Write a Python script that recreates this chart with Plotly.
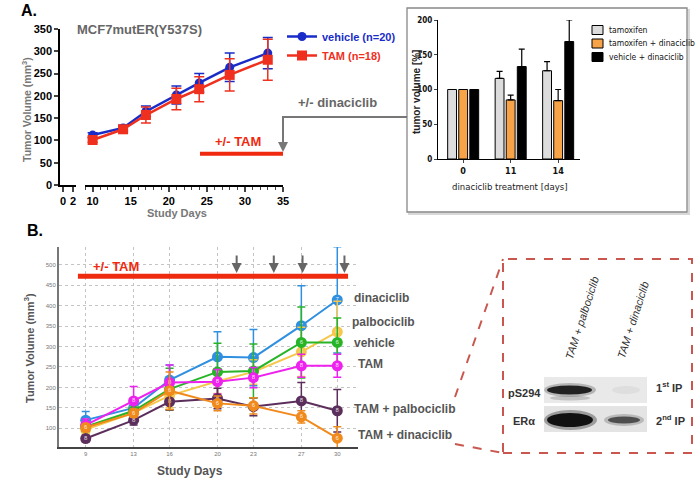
import plotly.graph_objects as go

W, H = 700, 490
FONT = "Liberation Sans, Arial, sans-serif"
NARROW = "Liberation Sans Narrow, DejaVu Sans Condensed, Liberation Sans, sans-serif"


def px(x):
    return x / W


def py(y):
    return 1 - y / H


# ---------------- Panel A: growth curves ----------------
days_A = [10, 14, 17, 21, 24, 28, 33]
vehicle_A = [112, 128, 165, 202, 229, 264, 296]
vehicle_A_err = [5, 6, 12, 20, 21, 32, 35]
tam_A = [101, 125, 157, 193, 215, 247, 281]
tam_A_err = [5, 6, 18, 24, 28, 36, 46]

# ---------------- Panel A inset: bar chart ----------------
inset_days = ["0", "11", "14"]
inset_groups = ["tamoxifen", "tamoxifen + dinaciclib", "vehicle + dinaciclib"]
tamoxifen_pct = [100, 116, 127]
tamoxifen_err = [0, 10, 13]
tam_dina_pct = [100, 85, 84]
tam_dina_err = [0, 7, 16]
veh_dina_pct = [100, 133, 169]
veh_dina_err = [0, 25, 31]
inset_colors = ["#dcdcdc", "#f7a448", "#000000"]

# ---------------- Panel B: growth curves ----------------
days_B = [9, 13, 16, 20, 23, 27, 30]
series_B = ["dinaciclib", "palbociclib", "vehicle", "TAM", "TAM + palbociclib", "TAM + dinaciclib"]
values_B = {
    "dinaciclib": [120, 150, 218, 275, 273, 351, 414],
    "palbociclib": [97, 138, 180, 215, 238, 287, 336],
    "vehicle": [104, 143, 196, 238, 240, 310, 310],
    "TAM": [108, 167, 212, 214, 224, 253, 253],
    "TAM + palbociclib": [75, 120, 165, 173, 153, 167, 143],
    "TAM + dinaciclib": [102, 137, 192, 161, 155, 128, 76],
}
errors_B = {
    "dinaciclib": [21, 20, 37, 61, 69, 98, 130],
    "palbociclib": [10, 15, 30, 30, 30, 60, 75],
    "vehicle": [12, 18, 51, 70, 66, 87, 60],
    "TAM": [15, 35, 43, 30, 25, 28, 28],
    "TAM + palbociclib": [8, 12, 20, 25, 22, 45, 52],
    "TAM + dinaciclib": [8, 10, 46, 18, 20, 15, 28],
}
n_B = {"dinaciclib": "7", "palbociclib": "8", "vehicle": "6", "TAM": "8",
       "TAM + palbociclib": "8", "TAM + dinaciclib": "6"}
colors_B = {
    "dinaciclib": "#2f8fe0",
    "palbociclib": "#f5c84c",
    "vehicle": "#27b427",
    "TAM": "#ee22ee",
    "TAM + palbociclib": "#5c2e5c",
    "TAM + dinaciclib": "#f08a1c",
}
label_pos_B = {  # placement (pixels) of the right-hand series labels
    "dinaciclib": (352, 298),
    "palbociclib": (350, 322),
    "vehicle": (352, 343),
    "TAM": (356, 364),
    "TAM + palbociclib": (352, 409),
    "TAM + dinaciclib": (356, 435),
}
treat_days_B = [21.6, 24.7, 27.1, 30.6]

BLUE = "#1a2cc8"
RED = "#f0301e"

fig = go.Figure()

# empty trace so the short "0-2" segment of the broken x axis is drawn
fig.add_trace(go.Scatter(x=[], y=[], xaxis="x", yaxis="y", showlegend=False, hoverinfo="skip"))

# Panel A traces
fig.add_trace(go.Scatter(
    x=days_A, y=vehicle_A, xaxis="x2", yaxis="y", mode="lines+markers",
    name="<b><span style='color:%s'>vehicle (n=20)</span></b>" % BLUE,
    line=dict(color=BLUE, width=2.5), marker=dict(symbol="circle", size=9, color=BLUE),
    error_y=dict(type="data", array=vehicle_A_err, color=BLUE, thickness=1.5, width=5),
))
fig.add_trace(go.Scatter(
    x=days_A, y=tam_A, xaxis="x2", yaxis="y", mode="lines+markers",
    name="<b><span style='color:%s'>TAM (n=18)</span></b>" % RED,
    line=dict(color=RED, width=2.5), marker=dict(symbol="square", size=10, color=RED),
    error_y=dict(type="data", array=tam_A_err, color=RED, thickness=1.5, width=5),
))

# Inset bars
for name, vals, errs, col in zip(inset_groups, [tamoxifen_pct, tam_dina_pct, veh_dina_pct],
                                 [tamoxifen_err, tam_dina_err, veh_dina_err], inset_colors):
    fig.add_trace(go.Bar(
        x=inset_days, y=vals, xaxis="x3", yaxis="y2", name=name, showlegend=False,
        marker=dict(color=col, line=dict(color="#000", width=1)),
        error_y=dict(type="data", array=errs, arrayminus=[0] * len(errs), symmetric=False,
                     color="#000", thickness=1.2, width=3),
    ))

# Panel B traces
for s in series_B:
    fig.add_trace(go.Scatter(
        x=days_B, y=values_B[s], xaxis="x4", yaxis="y3", mode="lines+markers+text",
        name=s, showlegend=False,
        text=[n_B[s]] * len(days_B), textposition="middle center",
        textfont=dict(size=6, color="rgba(255,255,255,0.85)", family=FONT),
        line=dict(color=colors_B[s], width=2),
        marker=dict(size=11, color=colors_B[s]),
        error_y=dict(type="data", array=errors_B[s], color=colors_B[s], thickness=1.5, width=4),
    ))

shapes = []
annotations = []


def ann(text, x, y, size, color, xanchor="center", angle=0, family=FONT):
    annotations.append(dict(text=text, xref="paper", yref="paper", x=px(x), y=py(y),
                            xanchor=xanchor, yanchor="middle", textangle=angle, showarrow=False,
                            font=dict(size=size, color=color, family=family)))


# Panel A decorations
shapes.append(dict(type="line", xref="x2", yref="y", x0=24.1, x1=35, y0=70, y1=70,
                   line=dict(color="#f02a10", width=4)))
ann("<b>+/- TAM</b>", 238, 142, 13, "#f02a10")
ann("<b>+/- dinaciclib</b>", 296, 103, 13, "#666", xanchor="left")
ann("<b>MCF7mutER(Y537S)</b>", 75, 30, 13, "#666", xanchor="left")
ann("<b>A.</b>", 19, 10, 16, "#000", xanchor="left")
ann("<b>B.</b>", 25, 230, 16, "#000", xanchor="left")

# connector from inset to panel A
shapes.append(dict(type="path", xref="paper", yref="paper",
                   path="M %f,%f L %f,%f L %f,%f" % (px(407), py(117), px(283), py(117), px(283), py(144)),
                   line=dict(color="#777", width=2)))
annotations.append(dict(text="", xref="paper", yref="paper", x=px(283), y=py(152), ax=0, ay=-10,
                        showarrow=True, arrowhead=2, arrowsize=1, arrowwidth=2, arrowcolor="#777"))

# inset box (shadow + frame)
shapes.append(dict(type="rect", xref="paper", yref="paper", x0=px(409), x1=px(689), y0=py(214), y1=py(10),
                   line=dict(color="#d8d8d8", width=2), fillcolor="#e8e8e8", layer="below"))
shapes.append(dict(type="rect", xref="paper", yref="paper", x0=px(407), x1=px(687), y0=py(212), y1=py(8),
                   line=dict(color="#888", width=1.3), fillcolor="#ffffff", layer="below"))

# inset legend (keys)
for i, (g, c) in enumerate(zip(inset_groups, inset_colors)):
    yc = 30 + i * 13.5
    shapes.append(dict(type="rect", xref="paper", yref="paper", x0=px(592), x1=px(603),
                       y0=py(yc + 4.5), y1=py(yc - 4.5), line=dict(color="#000", width=1), fillcolor=c))
    ann(g, 607, yc, 8.5, "#111", xanchor="left", family=NARROW)

# Panel B decorations
shapes.append(dict(type="line", xref="x4", yref="y3", x0=8.35, x1=30.9, y0=472, y1=472,
                   line=dict(color="#ee2a0f", width=5)))
ann("<b>+/- TAM</b>", 116, 266, 13, "#ee2a0f")
for d in treat_days_B:
    annotations.append(dict(text="", xref="x4", yref="y3", x=d, y=480, ax=0, ay=-19,
                            showarrow=True, arrowhead=2, arrowsize=1, arrowwidth=2, arrowcolor="#666"))
for s in series_B:
    lx, ly = label_pos_B[s]
    ann("<b>%s</b>" % s, lx, ly, 12, "#555", xanchor="left")

# Axis titles
ann("<b>Tumor Volume (mm<sup>3</sup>)</b>", 26, 110, 10.5, "#777", angle=-90)
ann("<b>Study Days</b>", 177, 213, 11, "#777")
ann("<b>tumor volume [%]</b>", 416, 92, 10, "#222", angle=-90)
ann("dinaciclib treatment [days]", 510, 186, 9.5, "#222", family=NARROW)
ann("<b>Tumor Volume (mm<sup>3</sup>)</b>", 29, 348, 11, "#555", angle=-90)
ann("<b>Study Days</b>", 190, 471, 12, "#555")

# ---------------- Western blot panel ----------------
DASH = "#c9574f"
shapes.append(dict(type="rect", xref="paper", yref="paper", x0=px(503), x1=px(692), y0=py(453), y1=py(259),
                   line=dict(color=DASH, width=2, dash="dash")))
shapes.append(dict(type="line", xref="paper", yref="paper", x0=px(455), y0=py(397), x1=px(503), y1=py(259),
                   line=dict(color=DASH, width=2, dash="dash")))
shapes.append(dict(type="line", xref="paper", yref="paper", x0=px(455), y0=py(444), x1=px(503), y1=py(453),
                   line=dict(color=DASH, width=2, dash="dash")))
shapes.append(dict(type="rect", xref="paper", yref="paper", x0=px(544), x1=px(647), y0=py(403), y1=py(377),
                   line=dict(width=0), fillcolor="#e9e9e9"))
shapes.append(dict(type="rect", xref="paper", yref="paper", x0=px(544), x1=px(647), y0=py(432), y1=py(406),
                   line=dict(width=0), fillcolor="#e4e4e4"))


def band(x0, x1, yc, h, color, op):
    shapes.append(dict(type="circle", xref="paper", yref="paper", x0=px(x0), x1=px(x1),
                       y0=py(yc + h / 2), y1=py(yc - h / 2), line=dict(width=0),
                       fillcolor=color, opacity=op))


band(544, 596, 390, 14, "#555", 0.35)
band(547, 592, 390, 9, "#111", 0.9)
band(550, 590, 398, 5, "#888", 0.4)
band(544, 597, 420, 20, "#444", 0.45)
band(547, 593, 420, 14, "#0a0a0a", 0.95)
band(604, 644, 420, 12, "#777", 0.4)
band(608, 640, 420, 7, "#333", 0.8)
band(612, 640, 390, 8, "#ccc", 0.4)

ann("<i>TAM + palbociclib</i>", 582, 318, 11, "#333", angle=-72)
ann("<i>TAM + dinaciclib</i>", 633, 320, 11, "#333", angle=-72)
ann("<b>pS294</b>", 543, 393, 11, "#333", xanchor="right")
ann("<b>ERα</b>", 511, 421, 11, "#333", xanchor="left")
ann("<b>1<sup>st</sup> IP</b>", 654, 387, 11, "#333", xanchor="left")
ann("<b>2<sup>nd</sup> IP</b>", 654, 420, 11, "#333", xanchor="left")

boldtick = dict(size=11, color="#000", family=FONT, weight="bold")

fig.update_layout(
    width=W, height=H, autosize=False, margin=dict(l=0, r=0, t=0, b=0, autoexpand=False),
    paper_bgcolor="#ffffff", plot_bgcolor="rgba(0,0,0,0)",
    font=dict(family=FONT),
    barmode="group", bargap=0.3, bargroupgap=0.2,
    showlegend=True,
    xaxis=dict(domain=[px(60), px(76)], range=[-0.6, 2.6], anchor="y", tickvals=[0, 2],
               ticks="outside", ticklen=5, tickwidth=1.5, showline=True, linecolor="#000", linewidth=1.5,
               showgrid=False, zeroline=False, tickfont=boldtick),
    xaxis2=dict(domain=[px(85), px(283)], range=[9, 35], anchor="y", tickvals=[10, 15, 20, 25, 30, 35],
                ticks="outside", ticklen=5, tickwidth=1.5, showline=True, linecolor="#000", linewidth=1.5,
                minor=dict(dtick=1, tick0=0, ticks="outside", ticklen=3, tickwidth=1, showgrid=False),
                showgrid=False, zeroline=False, tickfont=boldtick),
    yaxis=dict(domain=[py(185), py(29)], range=[0, 350], anchor="x", tickvals=list(range(0, 351, 50)),
               ticks="outside", ticklen=4, tickwidth=1.5, showline=True, linecolor="#000", linewidth=1.5,
               showgrid=False, zeroline=False, tickfont=boldtick),
    xaxis3=dict(domain=[px(438), px(580)], range=[-0.53, 2.46], anchor="y2", type="category",
                ticks="outside", ticklen=3, showline=True, linecolor="#000", linewidth=1.2,
                showgrid=False, zeroline=False,
                tickfont=dict(size=9, color="#111", family=NARROW, weight="bold")),
    yaxis2=dict(domain=[py(159), py(20)], range=[0, 200], anchor="x3", tickvals=[0, 50, 100, 150, 200],
                ticks="outside", ticklen=3, showline=True, linecolor="#000", linewidth=1.2,
                showgrid=False, zeroline=False,
                tickfont=dict(size=8, color="#111", family=NARROW, weight="bold")),
    xaxis4=dict(domain=[px(59), px(358)], range=[6.77, 31.73], anchor="y3", tickvals=days_B,
                ticks="", showline=True, linecolor="#444", linewidth=2,
                showgrid=True, gridcolor="#c4c4c4", griddash="dot", gridwidth=1, zeroline=False,
                tickfont=dict(size=6, color="#777", family=FONT)),
    yaxis3=dict(domain=[py(447), py(247)], range=[54.3, 543.5], anchor="x4",
                tickvals=list(range(100, 501, 50)),
                ticks="", showline=True, linecolor="#777", linewidth=2,
                showgrid=True, gridcolor="#c4c4c4", griddash="dot", gridwidth=1, zeroline=False,
                tickfont=dict(size=6, color="#777", family=FONT)),
    legend=dict(x=px(282), y=py(22), xanchor="left", yanchor="top", bgcolor="rgba(0,0,0,0)",
                font=dict(size=11, family=FONT), tracegroupgap=0),
    shapes=shapes,
    annotations=annotations,
)

fig.write_html("out.html", config={"displayModeBar": False},
               post_script="document.body.style.margin='0px';")
